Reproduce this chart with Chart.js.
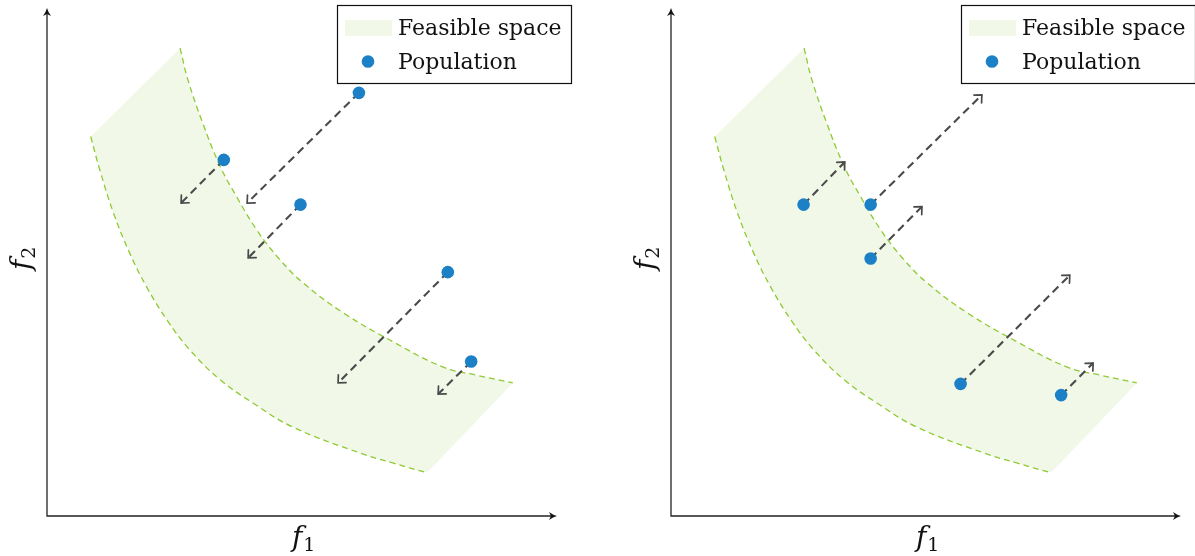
<!DOCTYPE html>
<html>
<head>
<meta charset="utf-8">
<script src="https://cdn.jsdelivr.net/npm/chart.js@4"></script>
<style>
html, body { margin: 0; padding: 0; background: #fff; overflow: hidden; }
#wrap { position: relative; width: 1195px; height: 556px; overflow: hidden; }
canvas { position: absolute; top: 0; width: 600px; height: 556px; }
#left { left: 0; }
#right { left: 624px; }
</style>
</head>
<body>
<div id="wrap">
    <canvas id="left" width="600" height="556"></canvas>
    <canvas id="right" width="600" height="556"></canvas>
</div>
<script>
// Feasible space boundaries (same in both panels)
const upperX = [2.62, 2.77, 3.06, 3.41, 3.73, 4.13, 4.59, 5.04, 5.83, 6.81, 7.80, 8.46, 9.17];
const upperY = [9.21, 8.60, 7.75, 6.88, 6.29, 5.63, 5.04, 4.59, 4.00, 3.43, 2.93, 2.77, 2.62];
const lowerX = [0.86, 1.04, 1.31, 1.63, 1.96, 2.36, 2.81, 3.41, 4.06, 4.84, 6.16, 6.82, 7.48];
const lowerY = [7.47, 6.81, 5.96, 5.17, 4.51, 3.86, 3.27, 2.68, 2.22, 1.75, 1.24, 1.04, 0.85];

// Left panel: population moving inwards
const popLeftX = [6.14, 3.48, 4.99, 7.89, 8.35];
const popLeftY = [8.33, 7.01, 6.13, 4.80, 3.04];
const moveLeftX = [3.94, 2.64, 3.96, 5.73, 7.70];
const moveLeftY = [6.16, 6.16, 5.08, 2.62, 2.40];

// Right panel: population moving outwards
const popRightX = [2.61, 3.93, 3.93, 5.70, 7.68];
const popRightY = [6.13, 6.13, 5.07, 2.60, 2.38];
const moveRightX = [3.42, 6.12, 4.94, 7.85, 8.31];
const moveRightY = [6.97, 8.29, 6.09, 4.74, 3.01];

const legendLabels = ['Feasible space', 'Population'];

const FILL = '#f1f8e8';
const EDGE = '#8fca35';
const DOT = '#1b80c6';
const ARROW = '#4a4a4a';
const SERIF = '"DejaVu Serif", "Liberation Serif", serif';

function toPoints(xs, ys) {
    return xs.map((x, i) => ({ x: x, y: ys[i] }));
}

function buildDatasets(popX, popY, toX, toY) {
    const up = toPoints(upperX, upperY);
    const lo = toPoints(lowerX, lowerY);
    // corners repeated so the straight ends stay straight with tension
    const shape = [up[0], ...up, up[up.length - 1], lo[lo.length - 1], ...lo.slice().reverse(), lo[0]];

    const sets = [];
    sets.push({
        data: toPoints(popX, popY),
        showLine: false,
        pointRadius: 6.3,
        pointBackgroundColor: DOT,
        pointBorderWidth: 0
    });
    popX.forEach((x, i) => {
        sets.push({
            isArrow: true,
            data: [{ x: x, y: popY[i] }, { x: toX[i], y: toY[i] }],
            borderColor: ARROW,
            borderWidth: 2.1,
            borderDash: [8, 5],
            pointRadius: 0,
            tension: 0,
            fill: false
        });
    });
    sets.push({
        data: up, borderColor: EDGE, borderWidth: 1.3, borderDash: [6, 4],
        pointRadius: 0, tension: 0.4, fill: false
    });
    sets.push({
        data: lo, borderColor: EDGE, borderWidth: 1.3, borderDash: [6, 4],
        pointRadius: 0, tension: 0.4, fill: false
    });
    sets.push({
        data: shape, borderWidth: 0, borderColor: 'rgba(0,0,0,0)',
        backgroundColor: FILL, pointRadius: 0, tension: 0.4, fill: 'shape'
    });
    return sets;
}

// open arrow head at the end of each move
function drawOpenHead(ctx, ax, ay, bx, by) {
    const ang = Math.atan2(by - ay, bx - ax);
    const len = 8;
    ctx.save();
    ctx.strokeStyle = ARROW;
    ctx.lineWidth = 1.7;
    ctx.lineCap = 'round';
    ctx.beginPath();
    ctx.moveTo(bx + len * Math.cos(ang + Math.PI - 0.75), by + len * Math.sin(ang + Math.PI - 0.75));
    ctx.lineTo(bx, by);
    ctx.lineTo(bx + len * Math.cos(ang + Math.PI + 0.75), by + len * Math.sin(ang + Math.PI + 0.75));
    ctx.stroke();
    ctx.restore();
}

function drawAxisHead(ctx, x, y, dir) {
    ctx.save();
    ctx.translate(x, y);
    ctx.rotate(dir);
    ctx.fillStyle = '#111';
    ctx.beginPath();
    ctx.moveTo(0, 0);
    ctx.quadraticCurveTo(-4, -1, -8, -4);
    ctx.lineTo(-6, 0);
    ctx.lineTo(-8, 4);
    ctx.quadraticCurveTo(-4, 1, 0, 0);
    ctx.fill();
    ctx.restore();
}

function drawLabel(ctx, sub, x, y) {
    ctx.font = 'italic 28px ' + SERIF;
    ctx.fillText('f', x, y);
    const w = ctx.measureText('f').width;
    ctx.font = '19px ' + SERIF;
    ctx.fillText(sub, x + w + 1, y + 5);
}

const decorPlugin = {
    id: 'decor',
    afterDatasetsDraw(chart) {
        const ctx = chart.ctx;
        chart.data.datasets.forEach((ds, i) => {
            if (!ds.isArrow) return;
            const pts = chart.getDatasetMeta(i).data;
            drawOpenHead(ctx, pts[0].x, pts[0].y, pts[1].x, pts[1].y);
        });
    },
    afterDraw(chart) {
        const ctx = chart.ctx;
        const area = chart.chartArea;
        ctx.save();

        // axes
        ctx.strokeStyle = '#222';
        ctx.lineWidth = 1.3;
        ctx.beginPath();
        ctx.moveTo(area.left, area.top + 3);
        ctx.lineTo(area.left, area.bottom);
        ctx.lineTo(area.right - 1, area.bottom);
        ctx.stroke();
        drawAxisHead(ctx, area.left, area.top, -Math.PI / 2);
        drawAxisHead(ctx, area.right + 2, area.bottom, 0);

        // axis labels
        ctx.fillStyle = '#111';
        ctx.textBaseline = 'alphabetic';
        drawLabel(ctx, '1', area.left + 245, area.bottom + 30);
        ctx.save();
        ctx.translate(area.left - 17, area.top + 262);
        ctx.rotate(-Math.PI / 2);
        drawLabel(ctx, '2', 0, 0);
        ctx.restore();

        // legend
        ctx.fillStyle = '#fff';
        ctx.fillRect(337, 5, 235, 78);
        ctx.strokeStyle = '#111';
        ctx.lineWidth = 1.2;
        ctx.strokeRect(337.5, 5.5, 234, 78);
        ctx.fillStyle = FILL;
        ctx.fillRect(345, 20, 47, 16);
        ctx.fillStyle = DOT;
        ctx.beginPath();
        ctx.arc(368, 61.5, 6.3, 0, Math.PI * 2);
        ctx.fill();
        ctx.fillStyle = '#111';
        ctx.font = '22px ' + SERIF;
        ctx.fillText(legendLabels[0], 398, 35);
        ctx.fillText(legendLabels[1], 398, 69);

        ctx.restore();
    }
};

function makeChart(id, popX, popY, toX, toY) {
    return new Chart(document.getElementById(id), {
        type: 'line',
        data: { datasets: buildDatasets(popX, popY, toX, toY) },
        options: {
            responsive: false,
            animation: false,
            devicePixelRatio: 1,
            events: [],
            layout: { padding: { left: 47, top: 8, right: 45, bottom: 40 } },
            scales: {
                x: { type: 'linear', min: 0, max: 10, display: false },
                y: { type: 'linear', min: 0, max: 10, display: false }
            },
            plugins: {
                legend: { display: false },
                tooltip: { enabled: false }
            }
        },
        plugins: [decorPlugin]
    });
}

makeChart('left', popLeftX, popLeftY, moveLeftX, moveLeftY);
makeChart('right', popRightX, popRightY, moveRightX, moveRightY);
</script>
</body>
</html>
